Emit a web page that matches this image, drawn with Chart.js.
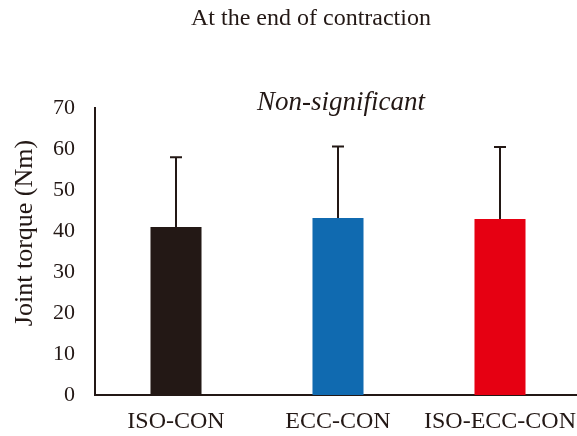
<!DOCTYPE html>
<html>
<head>
<meta charset="utf-8">
<script src="https://cdn.jsdelivr.net/npm/chart.js@4/dist/chart.umd.min.js"></script>
<style>
  html, body { margin: 0; padding: 0; overflow: hidden; background: #fff; }
  #wrap { width: 581px; height: 436px; position: relative; }
</style>
</head>
<body>
<div id="wrap"><canvas id="c"></canvas></div>
<script>
const categories = ["ISO-CON", "ECC-CON", "ISO-ECC-CON"];
const meanTorque = [41.0, 43.2, 42.9];
const sdTorque = [17.0, 17.4, 17.6];
const barColors = ["#231815", "#106ab0", "#e60012"];
const yTicks = [0, 10, 20, 30, 40, 50, 60, 70];
const titleText = "At the end of contraction";
const yTitleText = "Joint torque (Nm)";
const noteText = "Non-significant";

const ink = "#231815";
const serif = "'Liberation Serif', 'Times New Roman', serif";

const extras = {
  id: 'extras',
  afterDatasetsDraw(chart) {
    const ctx = chart.ctx;
    const y = chart.scales.y;
    const meta = chart.getDatasetMeta(0);
    ctx.save();
    ctx.strokeStyle = ink;
    ctx.lineWidth = 2;
    meta.data.forEach((bar, i) => {
      const x = bar.x;
      const yBase = y.getPixelForValue(meanTorque[i]);
      const yTop = y.getPixelForValue(meanTorque[i] + sdTorque[i]);
      ctx.beginPath();
      ctx.moveTo(x, yBase);
      ctx.lineTo(x, yTop);
      ctx.moveTo(x - 6, yTop);
      ctx.lineTo(x + 6, yTop);
      ctx.stroke();
    });
    ctx.restore();
  },
  afterDraw(chart) {
    const ctx = chart.ctx;
    ctx.save();
    ctx.fillStyle = ink;
    ctx.textAlign = 'center';
    ctx.textBaseline = 'middle';
    ctx.font = `24px ${serif}`;
    ctx.fillText(titleText, 311, 19);
    ctx.font = `italic 27px ${serif}`;
    ctx.fillText(noteText, 341, 103);
    ctx.translate(25, 233);
    ctx.rotate(-Math.PI / 2);
    ctx.font = `26px ${serif}`;
    ctx.fillText(yTitleText, 0, 0);
    ctx.restore();
  }
};

new Chart(document.getElementById('c'), {
  type: 'bar',
  data: {
    labels: categories,
    datasets: [{
      data: meanTorque,
      backgroundColor: barColors,
      borderWidth: 0,
      barPercentage: 0.315,
      categoryPercentage: 1.0
    }]
  },
  options: {
    responsive: true,
    maintainAspectRatio: false,
    animation: false,
    layout: { padding: { top: 108, left: 0, right: 0, bottom: 0 } },
    plugins: { legend: { display: false }, tooltip: { enabled: false }, title: { display: false } },
    scales: {
      x: {
        grid: { display: false, drawTicks: false },
        border: { display: true, color: ink, width: 2 },
        ticks: { color: ink, font: { family: serif, size: 24 }, padding: 12, maxRotation: 0 },
        afterFit(s) { s.height = 41; s.paddingLeft = 0; s.paddingRight = 0; }
      },
      y: {
        min: 0, max: 70,
        grid: { display: false, drawTicks: false },
        border: { display: true, color: ink, width: 2 },
        afterBuildTicks(s) { s.ticks = yTicks.map(v => ({ value: v })); },
        ticks: { color: ink, font: { family: serif, size: 22 }, padding: 20 },
        afterFit(s) { s.width = 95; s.paddingTop = 0; s.paddingBottom = 0; }
      }
    }
  },
  plugins: [extras]
});
</script>
</body>
</html>
